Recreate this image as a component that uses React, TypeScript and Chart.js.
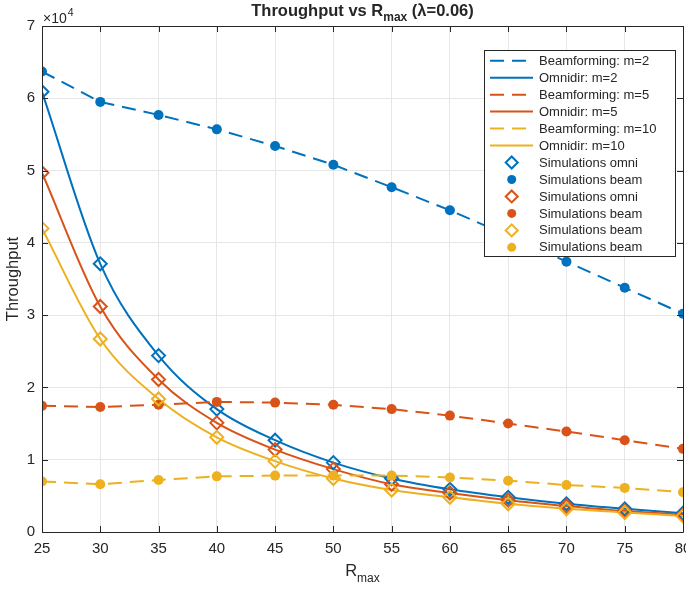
import React, { useEffect, useRef } from 'react';
import { Chart, registerables } from 'chart.js';
Chart.register(...registerables);

const rValues = [25, 30, 35, 40, 45, 50, 55, 60, 65, 70, 75, 80];
const beamM2 = [63700, 59500, 57700, 55700, 53400, 50800, 47700, 44500, 41000, 37400, 33800, 30200];
const omniM2 = [60900, 37100, 24400, 17000, 12700, 9600, 7400, 5900, 4800, 3900, 3200, 2600];
const beamM5 = [17450, 17300, 17600, 18000, 17900, 17600, 17000, 16100, 15000, 13900, 12700, 11500];
const omniM5 = [49700, 31200, 21100, 15100, 11400, 8700, 6600, 5400, 4400, 3600, 2900, 2400];
const beamM10 = [7000, 6600, 7200, 7700, 7800, 7800, 7800, 7550, 7100, 6500, 6100, 5500];
const omniM10 = [42000, 26700, 18400, 13100, 9800, 7400, 5800, 4800, 3900, 3200, 2700, 2200];
const xTicks = [25, 30, 35, 40, 45, 50, 55, 60, 65, 70, 75, 80];
const yTicks = [0, 10000, 20000, 30000, 40000, 50000, 60000, 70000];

const BLUE = '#0072BD';
const ORANGE = '#D95319';
const YELLOW = '#EDB120';
const AX = '#262626';
const GRID = '#e6e6e6';
const FONT = '"Liberation Sans", Arial, Helvetica, sans-serif';
const DASH = [14, 8];

const pts = (arr: number[]) => rValues.map((r, i) => ({ x: r, y: arr[i] }));

function lineDs(label: string, arr: number[], color: string, dashed: boolean, idx: number) {
  return {
    label,
    data: pts(arr),
    borderColor: color,
    backgroundColor: color,
    borderWidth: 2,
    borderDash: dashed ? DASH : [],
    pointRadius: 0,
    cubicInterpolationMode: dashed ? 'default' : 'monotone',
    tension: 0,
    fill: false,
    order: 100 - idx,
    kind: dashed ? 'dash' : 'solid',
  } as any;
}

function simDs(label: string, arr: number[], color: string, marker: 'diamond' | 'circle', idx: number) {
  return {
    label,
    data: pts(arr),
    borderColor: color,
    backgroundColor: marker === 'circle' ? color : 'rgba(0,0,0,0)',
    showLine: false,
    pointStyle: marker === 'circle' ? 'circle' : 'rectRot',
    pointRadius: marker === 'circle' ? 5 : 6.5,
    pointBorderWidth: marker === 'circle' ? 0 : 2,
    borderWidth: marker === 'circle' ? 0 : 2,
    order: 100 - idx,
    kind: marker,
  } as any;
}

const overlay = {
  id: 'matlabOverlay',
  afterDraw(chart: any) {
    const ctx = chart.ctx as CanvasRenderingContext2D;
    const { left, right, top, bottom } = chart.chartArea;
    const xs = chart.scales.x;
    const ys = chart.scales.y;
    ctx.save();
    ctx.strokeStyle = AX;
    ctx.lineWidth = 1;
    ctx.setLineDash([]);
    ctx.beginPath();
    ctx.rect(left + 0.5, top + 0.5, right - left, bottom - top);
    const TL = 6;
    xTicks.forEach((v) => {
      const px = Math.round(xs.getPixelForValue(v)) + 0.5;
      ctx.moveTo(px, bottom);
      ctx.lineTo(px, bottom - TL);
      ctx.moveTo(px, top);
      ctx.lineTo(px, top + TL);
    });
    yTicks.forEach((v) => {
      const py = Math.round(ys.getPixelForValue(v)) + 0.5;
      ctx.moveTo(left, py);
      ctx.lineTo(left + TL, py);
      ctx.moveTo(right, py);
      ctx.lineTo(right - TL, py);
    });
    ctx.stroke();

    ctx.fillStyle = AX;
    ctx.font = `15px ${FONT}`;
    ctx.textAlign = 'center';
    ctx.textBaseline = 'alphabetic';
    xTicks.forEach((v) => {
      ctx.fillText(String(v), xs.getPixelForValue(v), 553);
    });

    ctx.textAlign = 'left';
    ctx.font = `14px ${FONT}`;
    ctx.fillText('\u00d710', 43, 23);
    const w10 = ctx.measureText('\u00d710').width;
    ctx.font = `10.5px ${FONT}`;
    ctx.fillText('4', 43 + w10 + 1, 16);

    const cx = (left + right) / 2;
    const tMain = 'Throughput vs R';
    const tSub = 'max';
    const tRest = ' (\u03bb=0.06)';
    ctx.font = `bold 16.5px ${FONT}`;
    const wMain = ctx.measureText(tMain).width;
    const wRest = ctx.measureText(tRest).width;
    ctx.font = `bold 12px ${FONT}`;
    const wSub = ctx.measureText(tSub).width;
    let tx = cx - (wMain + wSub + wRest) / 2;
    const tb = 16;
    ctx.font = `bold 16.5px ${FONT}`;
    ctx.fillText(tMain, tx, tb);
    tx += wMain;
    ctx.font = `bold 12px ${FONT}`;
    ctx.fillText(tSub, tx, tb + 5);
    tx += wSub;
    ctx.font = `bold 16.5px ${FONT}`;
    ctx.fillText(tRest, tx, tb);

    ctx.font = `16.5px ${FONT}`;
    const wR = ctx.measureText('R').width;
    ctx.font = `12px ${FONT}`;
    const wMax = ctx.measureText('max').width;
    const lx = cx - (wR + wMax) / 2;
    ctx.font = `16.5px ${FONT}`;
    ctx.fillText('R', lx, 576);
    ctx.font = `12px ${FONT}`;
    ctx.fillText('max', lx + wR, 582);

    ctx.save();
    ctx.translate(13, (top + bottom) / 2);
    ctx.rotate(-Math.PI / 2);
    ctx.textAlign = 'center';
    ctx.textBaseline = 'middle';
    ctx.font = `16.5px ${FONT}`;
    ctx.fillText('Throughput', 0, 0);
    ctx.restore();

    const lx0 = 484.5, ly0 = 50.5, lw = 191, lh = 206;
    ctx.fillStyle = '#ffffff';
    ctx.fillRect(lx0, ly0, lw, lh);
    ctx.strokeStyle = AX;
    ctx.lineWidth = 1;
    ctx.strokeRect(lx0, ly0, lw, lh);
    const dsList = chart.data.datasets;
    ctx.font = `13px ${FONT}`;
    ctx.textAlign = 'left';
    ctx.textBaseline = 'middle';
    dsList.forEach((ds: any, i: number) => {
      const y = 60.7 + i * 16.97;
      const color = ds.borderColor;
      if (ds.kind === 'dash' || ds.kind === 'solid') {
        ctx.strokeStyle = color;
        ctx.lineWidth = 2;
        ctx.setLineDash(ds.kind === 'dash' ? DASH : []);
        ctx.beginPath();
        ctx.moveTo(490, y);
        ctx.lineTo(533, y);
        ctx.stroke();
        ctx.setLineDash([]);
      } else if (ds.kind === 'diamond') {
        const r = 6;
        const mx = 511.7;
        ctx.strokeStyle = color;
        ctx.lineWidth = 2;
        ctx.beginPath();
        ctx.moveTo(mx, y - r);
        ctx.lineTo(mx + r, y);
        ctx.lineTo(mx, y + r);
        ctx.lineTo(mx - r, y);
        ctx.closePath();
        ctx.stroke();
      } else {
        ctx.fillStyle = color;
        ctx.beginPath();
        ctx.arc(511.7, y, 4.5, 0, Math.PI * 2);
        ctx.fill();
      }
      ctx.fillStyle = AX;
      ctx.fillText(ds.label, 539, y + 0.5);
    });
    ctx.restore();
  },
};

export default function App() {
  const ref = useRef<HTMLCanvasElement | null>(null);
  useEffect(() => {
    if (!ref.current) return;
    const datasets = [
      lineDs('Beamforming: m=2', beamM2, BLUE, true, 0),
      lineDs('Omnidir: m=2', omniM2, BLUE, false, 1),
      lineDs('Beamforming: m=5', beamM5, ORANGE, true, 2),
      lineDs('Omnidir: m=5', omniM5, ORANGE, false, 3),
      lineDs('Beamforming: m=10', beamM10, YELLOW, true, 4),
      lineDs('Omnidir: m=10', omniM10, YELLOW, false, 5),
      simDs('Simulations omni', omniM2, BLUE, 'diamond', 6),
      simDs('Simulations beam', beamM2, BLUE, 'circle', 7),
      simDs('Simulations omni', omniM5, ORANGE, 'diamond', 8),
      simDs('Simulations beam', beamM5, ORANGE, 'circle', 9),
      simDs('Simulations beam', omniM10, YELLOW, 'diamond', 10),
      simDs('Simulations beam', beamM10, YELLOW, 'circle', 11),
    ];
    const chart = new Chart(ref.current, {
      type: 'line',
      data: { datasets },
      plugins: [overlay],
      options: {
        animation: false,
        responsive: false,
        devicePixelRatio: 1,
        layout: { autoPadding: false, padding: { top: 26, right: 3, left: 0, bottom: 0 } },
        plugins: { legend: { display: false }, title: { display: false }, tooltip: { enabled: false } },
        scales: {
          x: {
            type: 'linear',
            min: 25,
            max: 80,
            afterBuildTicks: (s: any) => { s.ticks = xTicks.map((v) => ({ value: v })); },
            ticks: { display: false },
            grid: { color: GRID, drawTicks: false, lineWidth: 1 },
            border: { display: false },
            afterFit: (s: any) => { s.height = 57; s.paddingLeft = 0; s.paddingRight = 0; },
          },
          y: {
            type: 'linear',
            min: 0,
            max: 70000,
            afterBuildTicks: (s: any) => { s.ticks = yTicks.map((v) => ({ value: v })); },
            ticks: { font: { size: 15, family: FONT }, color: AX, padding: 7, callback: (v: any) => String(Number(v) / 10000) },
            grid: { color: GRID, drawTicks: false, lineWidth: 1 },
            border: { display: false },
            afterFit: (s: any) => { s.width = 42; s.paddingTop = 0; s.paddingBottom = 0; },
          },
        },
      } as any,
    });
    return () => chart.destroy();
  }, []);
  return (
    <div style={{ position: 'fixed', left: 0, top: 0, width: 686, height: 589, background: '#fff' }}>
      <canvas ref={ref} width={686} height={589} style={{ display: 'block' }} />
    </div>
  );
}
